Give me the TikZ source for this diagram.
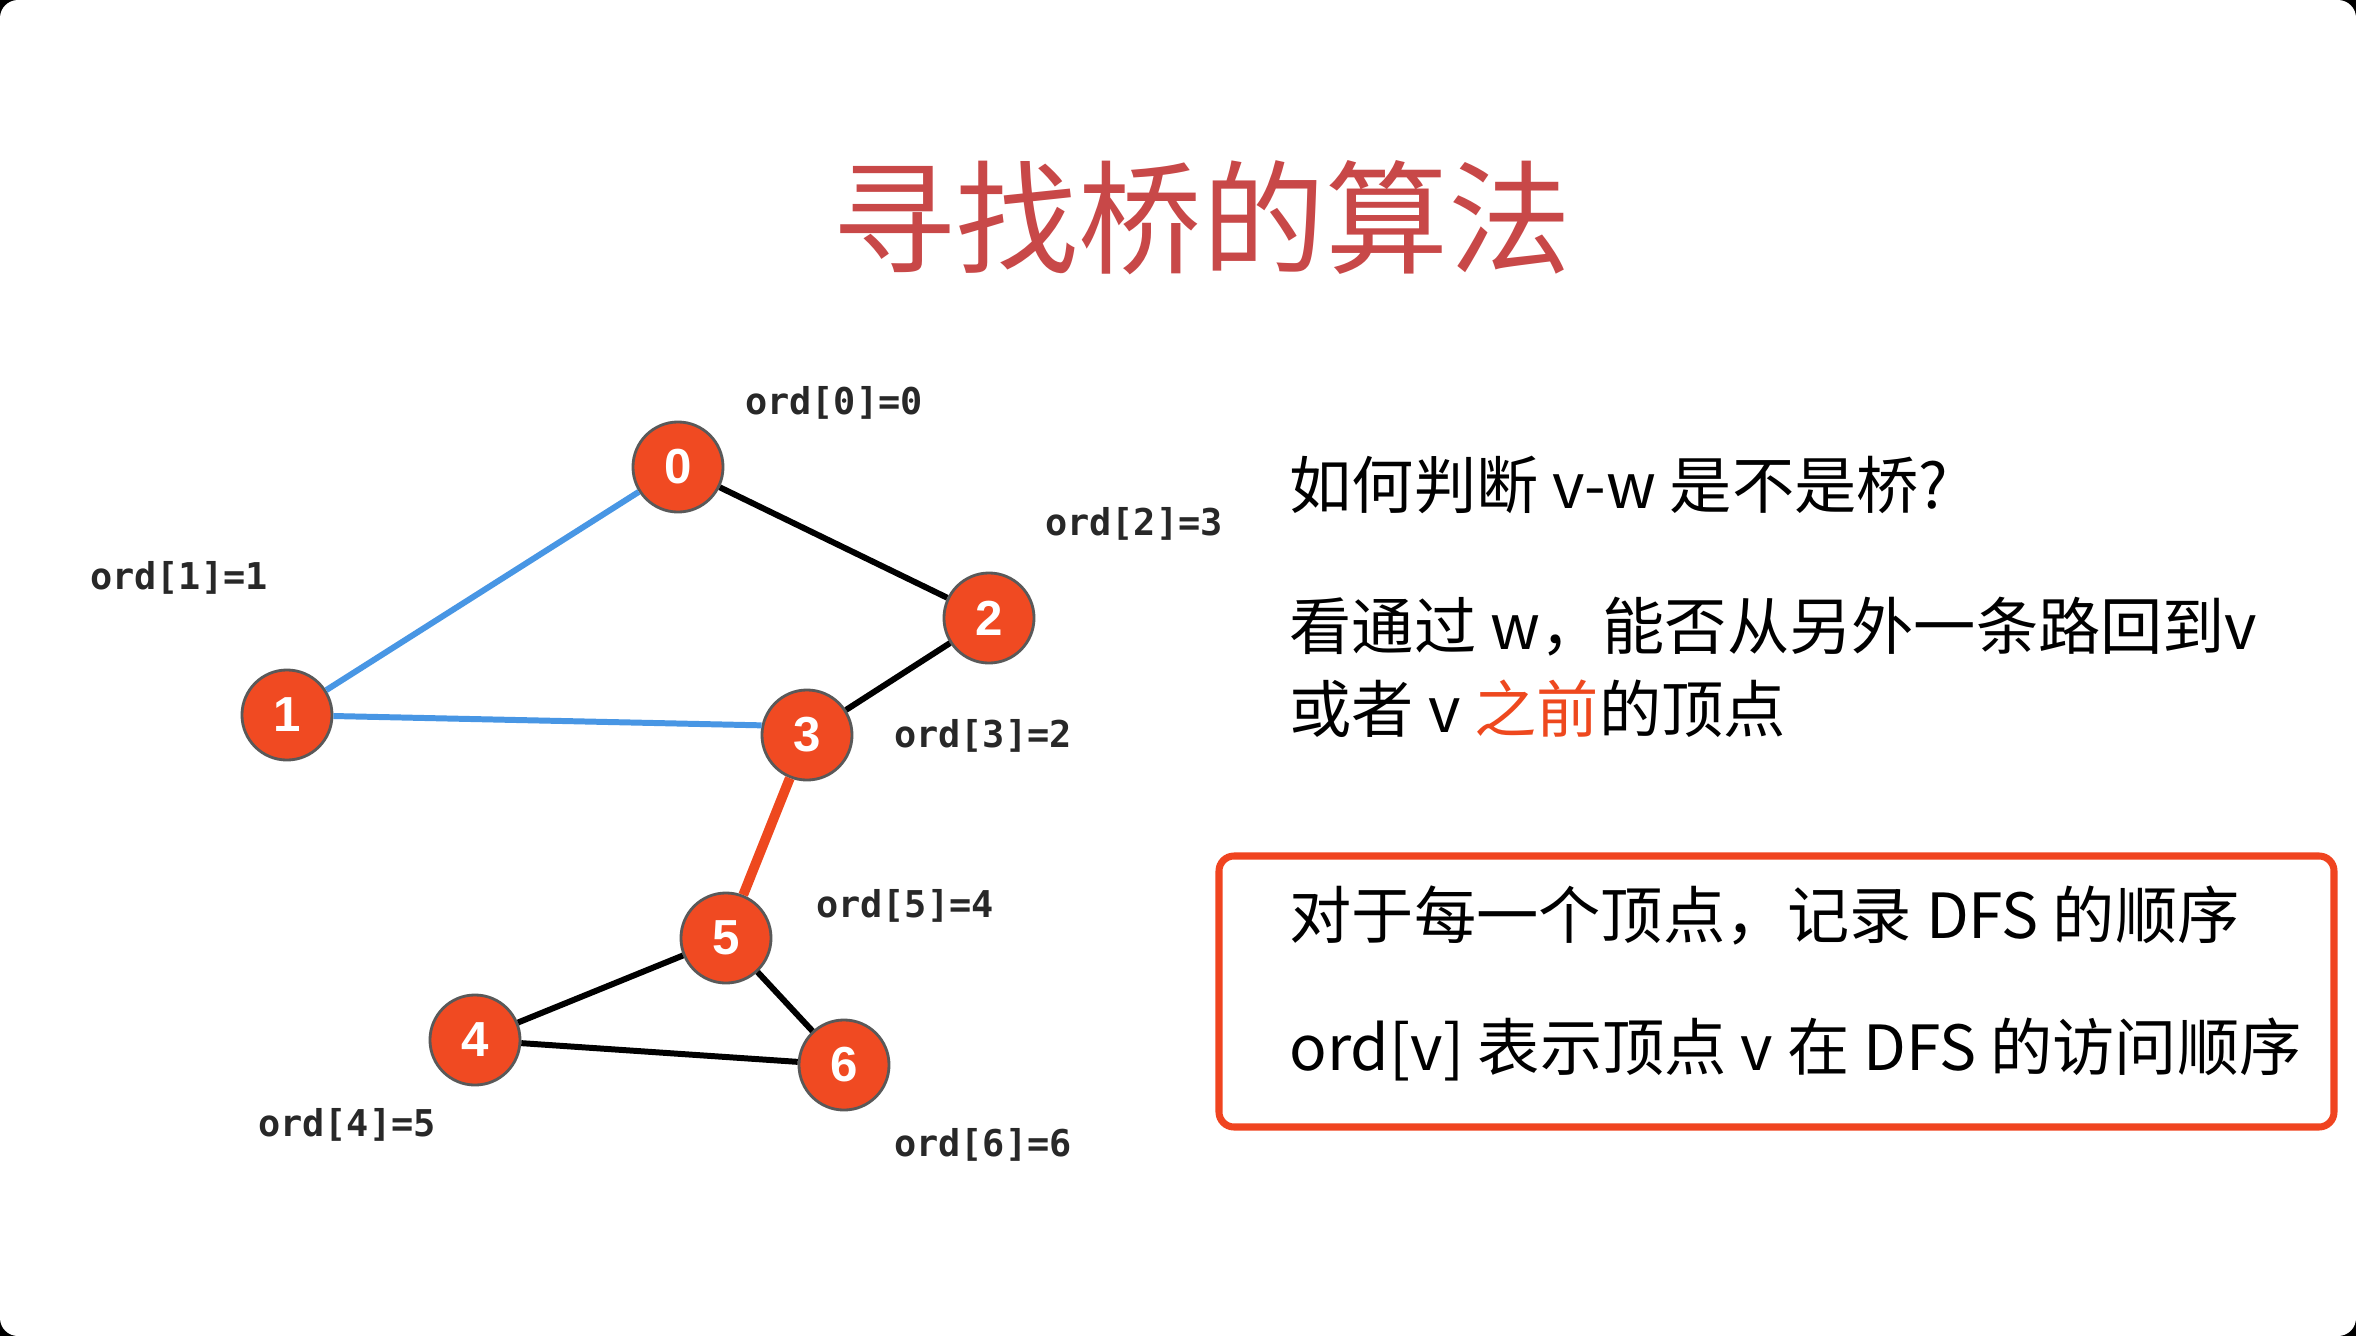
\documentclass[tikz,border=0pt]{standalone}
\usepackage{fontspec}
\setmainfont{Noto Sans CJK SC}
\setmonofont{DejaVu Sans Mono}
\newfontfamily\numfont{Liberation Sans}
\usetikzlibrary{positioning}
\usepackage{xcolor}
\definecolor{titlered}{RGB}{200,72,72}
\definecolor{vertexred}{RGB}{240,74,34}
\definecolor{treeblue}{RGB}{72,150,228}
\definecolor{bridgered}{RGB}{238,72,30}
\definecolor{boxred}{RGB}{240,68,32}
\definecolor{labelgray}{RGB}{40,40,40}
\tikzset{
  vertex/.style   = {circle, draw=black!65, line width=0.8pt, fill=vertexred,
                     minimum size=0.9cm, inner sep=0pt, text=white,
                     font=\numfont\bfseries\fontsize{14}{14}\selectfont},
  ordlabel/.style = {text=labelgray, inner sep=0pt,
                     font=\ttfamily\bfseries\fontsize{10.5}{12}\selectfont},
  edge/.style     = {line width=1.7pt, color=black},
  tree/.style     = {line width=1.7pt, color=treeblue},
  bridge/.style   = {line width=2.8pt, color=bridgered},
  txt/.style      = {anchor=west, inner sep=0pt, font=\fontsize{17.7}{22}\selectfont},
  notebox/.style  = {draw=boxred, line width=2pt, rounded corners=0.15cm},
}

\begin{document}
\begin{tikzpicture}[x=0.01cm, y=-0.01cm]
  % slide
  \fill[black] (0,0) rectangle (2356,1336);
  \fill[white, rounded corners=0.18cm] (0,0) rectangle (2356,1336);
  \useasboundingbox (0,0) rectangle (2356,1336);

  \node[text=titlered, font=\fontsize{35}{40}\selectfont] (title) at (1202,218) {寻找桥的算法};

  % graph
  \node[vertex] (v0) at (678,467)  {0};
  \node[vertex] (v1) at (287,715)  {1};
  \node[vertex] (v2) at (989,618)  {2};
  \node[vertex] (v3) at (807,735)  {3};
  \node[vertex] (v5) at (726,938)  {5};
  \node[vertex] (v4) at (475,1040) {4};
  \node[vertex] (v6) at (844,1065) {6};

  \draw[tree]   (v0) -- (v1);
  \draw[tree]   (v1) -- (v3.168);
  \draw[edge]   (v0) -- (v2);
  \draw[edge]   (v2) -- (v3);
  \draw[bridge] (v3) -- (v5);
  \draw[edge]   (v5) -- (v4);
  \draw[edge]   (v5) -- (v6);
  \draw[edge]   (v4) -- (v6);

  \node[ordlabel] (o0) at (834,403)  {ord[0]=0};
  \node[ordlabel] (o1) at (179,578)  {ord[1]=1};
  \node[ordlabel] (o2) at (1134,524) {ord[2]=3};
  \node[ordlabel] (o3) at (983,736)  {ord[3]=2};
  \node[ordlabel] (o5) at (905,906)  {ord[5]=4};
  \node[ordlabel] (o4) at (347,1125) {ord[4]=5};
  \node[ordlabel] (o6) at (983,1145) {ord[6]=6};

  % right side text
  \node[txt] (q1) at (1289,485) {如何判断 v-w 是不是桥?};
  \node[txt] (q2) at (1289,627) {看通过 w，能否从另外一条路回到v};
  \node[txt] (q3) at (1289,709) {或者 v \textcolor{bridgered}{之前}的顶点};

  \draw[notebox] (1219,856) rectangle (2334,1127);
  \node[txt] (n1) at (1289,915)  {对于每一个顶点，记录 DFS 的顺序};
  \node[txt] (n2) at (1289,1049) {ord[v] 表示顶点 v 在 DFS 的访问顺序};
\end{tikzpicture}
\end{document}
